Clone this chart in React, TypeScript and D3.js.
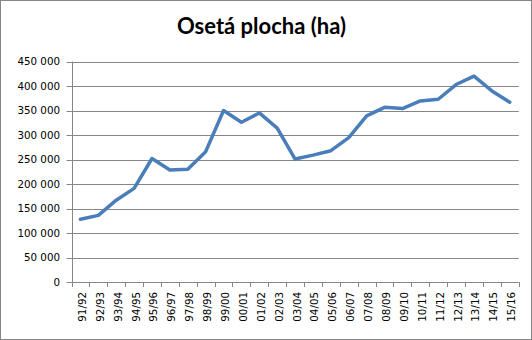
import React from "react";
import * as d3 from "d3";

const categories = ["91/92","92/93","93/94","94/95","95/96","96/97","97/98","98/99","99/00","00/01","01/02","02/03","03/04","04/05","05/06","06/07","07/08","08/09","09/10","10/11","11/12","12/13","13/14","14/15","15/16"];
const values = [128000,136000,167000,191000,252000,228500,230000,266000,350000,326000,345000,314000,251000,259000,268000,294500,339000,356500,354000,369500,373000,403000,420000,390000,367000];
const yTicks = [0,50000,100000,150000,200000,250000,300000,350000,400000,450000];
const title = "Osetá plocha (ha)";

const W = 532, H = 340;
const left = 71.5, right = 518.7, top = 61.5, bottom = 282;

export default function App() {
  const x = d3.scaleBand<string>().domain(categories).range([left, right]);
  const y = d3.scaleLinear().domain([0, 450000]).range([bottom, top]);
  const line = d3.line<number>().x((_, i) => (x(categories[i]) as number) + x.bandwidth() / 2).y(d => y(d));
  const fmt = (v: number) => d3.format(",")(v).replace(/,/g, " ");
  const grid = "#868686";
  return (
    <svg width={W} height={H} style={{ position: "absolute", left: 0, top: 0 }}>
      <rect x={0.5} y={0.5} width={W - 1} height={H - 1} fill="white" stroke={grid} />
      <text x={261.5} y={33.5} textAnchor="middle" fontFamily="Lato, 'Open Sans', sans-serif" fontWeight="bold" fontSize={22}>{title}</text>
      {yTicks.map(t => (
        <g key={t}>
          <line x1={left - 5} x2={right} y1={Math.round(y(t)) + 0.5} y2={Math.round(y(t)) + 0.5} stroke={grid} strokeWidth={1} />
          <text x={60} y={y(t) + 3.8} textAnchor="end" fontFamily="'DejaVu Sans', Verdana, sans-serif" fontSize={10.3} fill="#000">{fmt(t)}</text>
        </g>
      ))}
      <line x1={Math.round(left) + 0.5} x2={Math.round(left) + 0.5} y1={top} y2={bottom} stroke={grid} />
      {[...categories.map(c => x(c) as number), right].map((px, i) => (
        <line key={i} x1={Math.round(px) + 0.5} x2={Math.round(px) + 0.5} y1={bottom} y2={bottom + 5} stroke={grid} />
      ))}
      {categories.map(c => {
        const cx = (x(c) as number) + x.bandwidth() / 2;
        return (
          <text key={c} transform={`translate(${cx + 5.5},${292}) rotate(-90)`} textAnchor="end" fontFamily="'DejaVu Sans', Verdana, sans-serif" fontSize={10.3} fill="#000">{c}</text>
        );
      })}
      <path d={line(values) as string} fill="none" stroke="#4a7ebb" strokeWidth={3.5} strokeLinejoin="round" strokeLinecap="round" />
    </svg>
  );
}
